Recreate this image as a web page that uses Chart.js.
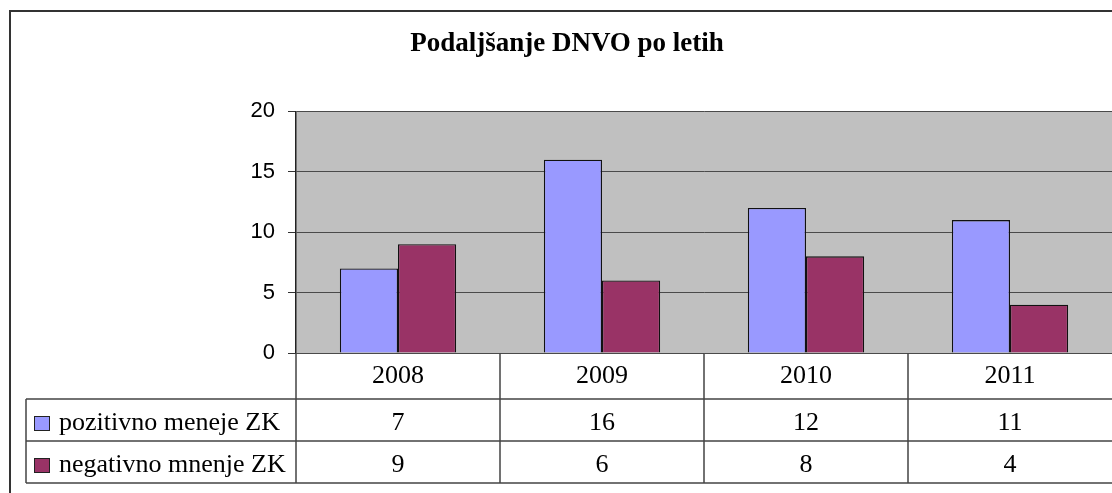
<!DOCTYPE html>
<html>
<head>
<meta charset="utf-8">
<script src="https://cdn.jsdelivr.net/npm/chart.js@4/dist/chart.umd.min.js"></script>
<style>
  html, body { margin: 0; padding: 0; background: #fff; }
  #wrap { width: 1112px; height: 493px; position: relative; }
</style>
</head>
<body>
<div id="wrap"><canvas id="chart"></canvas></div>
<script>
// chart data
const years = ['2008', '2009', '2010', '2011'];
const positive = [7, 16, 12, 11];
const negative = [9, 6, 8, 4];
const seriesNames = ['pozitivno meneje ZK', 'negativno mnenje ZK'];
const chartTitle = 'Podaljšanje DNVO po letih';

const serif = '"Liberation Serif", "Times New Roman", serif';
const sans = '"Liberation Sans", Arial, sans-serif';

// grey plot background + outer frame
const background = {
  id: 'background',
  beforeDraw(chart) {
    const { ctx, chartArea } = chart;
    ctx.save();
    ctx.fillStyle = '#fff';
    ctx.fillRect(0, 0, chart.width, chart.height);
    ctx.fillStyle = '#C0C0C0';
    ctx.fillRect(chartArea.left, chartArea.top, chartArea.right - chartArea.left, chartArea.bottom - chartArea.top);
    ctx.strokeStyle = '#333';
    ctx.lineWidth = 2;
    ctx.beginPath();
    ctx.moveTo(10, chart.height);
    ctx.lineTo(10, 11);
    ctx.lineTo(chart.width, 11);
    ctx.stroke();
    ctx.restore();
  }
};

// data table under the x axis (legend keys + values)
const dataTable = {
  id: 'dataTable',
  afterDraw(chart) {
    const { ctx, chartArea, scales: { x } } = chart;
    const half = (x.getPixelForValue(1) - x.getPixelForValue(0)) / 2;
    const top = chartArea.bottom;
    const rows = [top + 46, top + 88, top + 130];
    const left = 26;

    ctx.save();
    ctx.strokeStyle = '#444';
    ctx.lineWidth = 1.5;
    ctx.beginPath();
    rows.forEach(y => { ctx.moveTo(left, y); ctx.lineTo(chartArea.right, y); });
    ctx.moveTo(left, rows[0]);
    ctx.lineTo(left, rows[2]);
    years.forEach((_, i) => {
      const bx = x.getPixelForValue(i) - half;
      ctx.moveTo(bx, top);
      ctx.lineTo(bx, rows[2]);
    });
    ctx.stroke();

    ctx.font = '26px ' + serif;
    ctx.fillStyle = '#000';
    ctx.textBaseline = 'middle';
    chart.data.datasets.forEach((ds, r) => {
      const cy = rows[r] + 24;
      // legend key
      ctx.fillStyle = ds.backgroundColor;
      ctx.fillRect(34, cy - 7, 16, 15);
      ctx.lineWidth = 1;
      ctx.strokeStyle = '#222';
      ctx.strokeRect(34.5, cy - 6.5, 15, 14);
      ctx.fillStyle = '#000';
      ctx.textAlign = 'left';
      ctx.fillText(ds.label, 59, cy);
      ctx.textAlign = 'center';
      ds.data.forEach((v, i) => ctx.fillText(String(v), x.getPixelForValue(i), cy));
    });
    ctx.restore();
  }
};

new Chart(document.getElementById('chart'), {
  type: 'bar',
  data: {
    labels: years,
    datasets: [
      {
        label: seriesNames[0],
        data: positive,
        backgroundColor: '#9999FF',
        borderColor: '#111',
        borderWidth: 1.3
      },
      {
        label: seriesNames[1],
        data: negative,
        backgroundColor: '#993366',
        borderColor: '#111',
        borderWidth: 1.3
      }
    ]
  },
  options: {
    responsive: true,
    maintainAspectRatio: false,
    animation: false,
    layout: { padding: { left: 22, right: 0, top: 0, bottom: 0 } },
    datasets: {
      bar: { categoryPercentage: 0.57, barPercentage: 1.0 }
    },
    plugins: {
      legend: { display: false },
      tooltip: { enabled: false },
      title: {
        display: true,
        text: chartTitle,
        color: '#000',
        font: { family: serif, size: 27, weight: 'bold' },
        padding: { top: 28, bottom: 51 }
      }
    },
    scales: {
      x: {
        grid: { display: false, drawTicks: false },
        border: { display: false },
        ticks: {
          color: '#000',
          padding: 8,
          font: { family: serif, size: 26 }
        },
        afterFit(scale) { scale.height = 140; }
      },
      y: {
        min: 0,
        max: 20,
        ticks: {
          stepSize: 5,
          color: '#000',
          padding: 13,
          font: { family: sans, size: 22 }
        },
        grid: { color: '#4a4a4a', lineWidth: 1, tickLength: 8, tickColor: '#333' },
        border: { display: true, color: '#222', width: 1.5 },
        afterFit(scale) { scale.width = 274; }
      }
    }
  },
  plugins: [background, dataTable]
});
</script>
</body>
</html>
